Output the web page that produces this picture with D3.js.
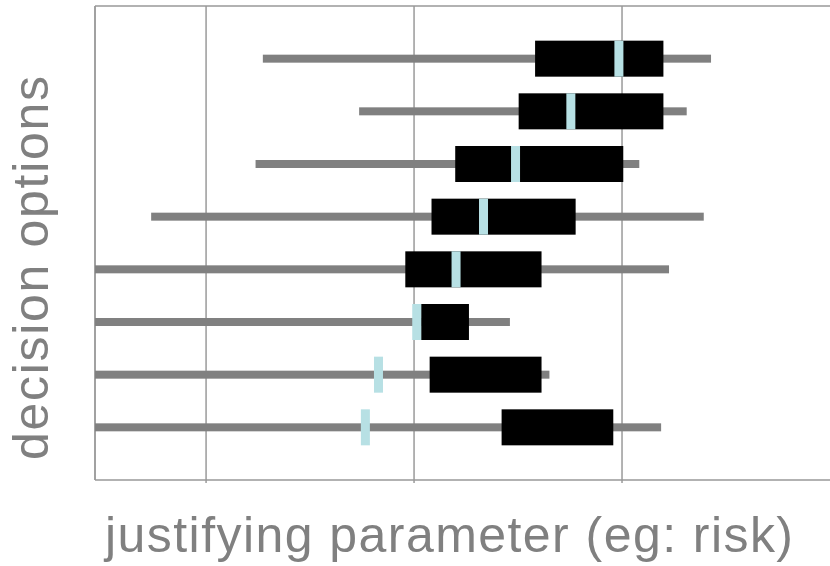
<!DOCTYPE html>
<html>
<head>
<meta charset="utf-8">
<script src="https://cdn.jsdelivr.net/npm/d3@7"></script>
<style>
  html, body { margin: 0; padding: 0; background: #fff; }
  svg { display: block; }
  text { font-family: "Liberation Sans", Arial, sans-serif; fill: #808080; }
</style>
</head>
<body>
<svg id="chart" width="830" height="566"></svg>
<script>
// Data
const options    = ["A", "B", "C", "D", "E", "F", "G", "H"];
const whiskerMin = [1.273, 1.736, 1.238, 0.736, 0.30, 0.30, 0.30, 0.30];
const whiskerMax = [3.428, 3.311, 3.083, 3.393, 3.226, 2.461, 2.651, 3.188];
const boxLow     = [2.582, 2.503, 2.198, 2.084, 1.958, 2.034, 2.075, 2.421];
const boxHigh    = [3.199, 3.199, 3.006, 2.777, 2.613, 2.264, 2.613, 2.958];
const medians    = [2.985, 2.754, 2.488, 2.334, 2.202, 2.013, 1.829, 1.766];
const gridTicks  = [1, 2, 3];

const data = options.map((o, i) => ({
  option: o, wmin: whiskerMin[i], wmax: whiskerMax[i],
  lo: boxLow[i], hi: boxHigh[i], med: medians[i]
}));

const svg = d3.select("#chart");
const mLeft = 95, mRight = 830, mTop = 6, mBottom = 480;

const x = d3.scaleLinear().domain([0.466, 4.0]).range([mLeft, mRight]);
const y = d3.scalePoint().domain(options).range([mTop, mBottom]).padding(1);

svg.append("defs").append("clipPath").attr("id", "plotClip")
  .append("rect").attr("x", mLeft).attr("y", mTop)
  .attr("width", mRight - mLeft).attr("height", mBottom - mTop);

// Gridlines
svg.append("g").selectAll("line").data(gridTicks).join("line")
  .attr("x1", d => x(d)).attr("x2", d => x(d))
  .attr("y1", mTop).attr("y2", mBottom + 3)
  .attr("stroke", "#8a8a8a").attr("stroke-width", 1.3);

// Frame: left, top, bottom
svg.append("line").attr("x1", mLeft).attr("x2", mLeft).attr("y1", mTop).attr("y2", mBottom)
  .attr("stroke", "#8a8a8a").attr("stroke-width", 1.6);
svg.append("line").attr("x1", mLeft).attr("x2", mRight).attr("y1", mTop).attr("y2", mTop)
  .attr("stroke", "#999").attr("stroke-width", 1.6);
svg.append("line").attr("x1", mLeft).attr("x2", mRight).attr("y1", mBottom).attr("y2", mBottom)
  .attr("stroke", "#999").attr("stroke-width", 1.6);

const plot = svg.append("g").attr("clip-path", "url(#plotClip)");
const boxH = 36, whiskH = 8, medW = 9;

// Whiskers
plot.selectAll("rect.wh").data(data).join("rect").attr("class", "wh")
  .attr("x", d => x(d.wmin)).attr("width", d => x(d.wmax) - x(d.wmin))
  .attr("y", d => y(d.option) - whiskH / 2).attr("height", whiskH)
  .attr("fill", "#808080");

// Boxes
plot.selectAll("rect.box").data(data).join("rect").attr("class", "box")
  .attr("x", d => x(d.lo)).attr("width", d => x(d.hi) - x(d.lo))
  .attr("y", d => y(d.option) - boxH / 2).attr("height", boxH)
  .attr("fill", "#000");

// Medians
plot.selectAll("rect.med").data(data).join("rect").attr("class", "med")
  .attr("x", d => x(d.med) - medW / 2).attr("width", medW)
  .attr("y", d => y(d.option) - boxH / 2).attr("height", boxH)
  .attr("fill", "#b7e0e4");

// Axis titles
svg.append("text").attr("x", 105).attr("y", 552)
  .attr("font-size", 50)
  .attr("textLength", 688).attr("lengthAdjust", "spacing")
  .text("justifying parameter (eg: risk)");

svg.append("text").attr("transform", "translate(48,460) rotate(-90)")
  .attr("font-size", 50)
  .attr("textLength", 384).attr("lengthAdjust", "spacing")
  .text("decision options");
</script>
</body>
</html>
